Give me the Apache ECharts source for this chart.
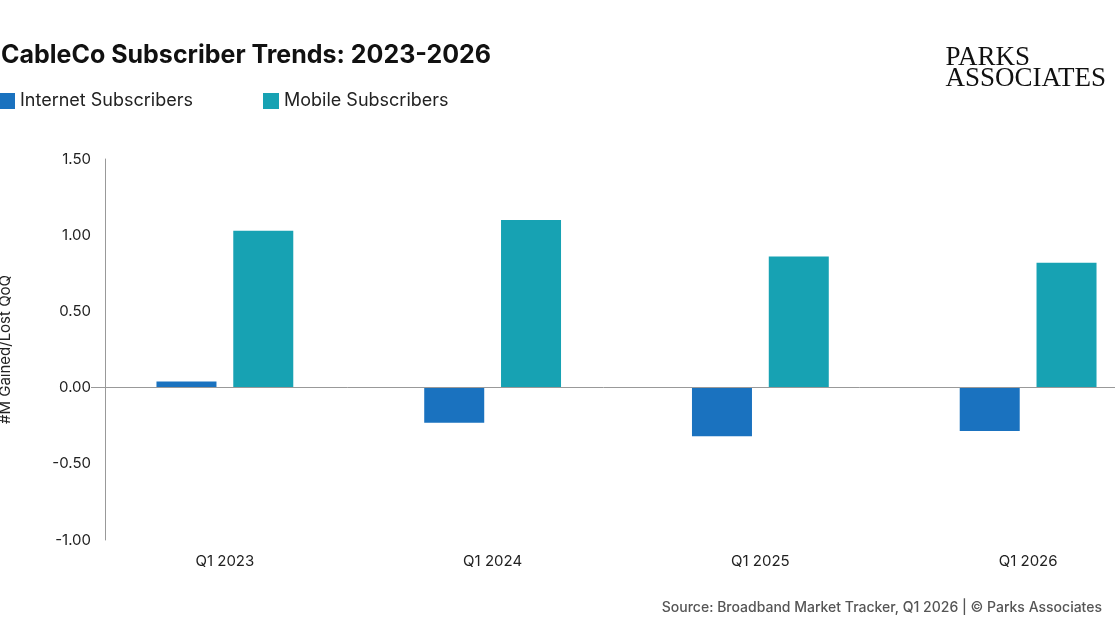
<!DOCTYPE html>
<html><head><meta charset="utf-8">
<script src="https://cdn.jsdelivr.net/npm/echarts@6/dist/echarts.min.js"></script>
<style>html,body{margin:0;padding:0;background:#fff}#c{width:1115px;height:627px}</style>
</head><body><div id="c"></div>
<script>
const categories = ['Q1 2023','Q1 2024','Q1 2025','Q1 2026'];
const internet = [0.04,-0.23,-0.32,-0.285];
const mobile = [1.03,1.10,0.86,0.82];
const yTicks = [-1,-0.5,0,0.5,1,1.5];
const chart = echarts.init(document.getElementById('c'));
const F = 'Inter, "Noto Sans", sans-serif';
chart.setOption({
  animation:false,
  title:[{text:'CableCo Subscriber Trends: 2023-2026',left:-4,top:38,textStyle:{fontFamily:F,fontSize:25,fontWeight:'bold',color:'#111'}},
    {text:'PARKS\nASSOCIATES',right:4,top:42,textStyle:{fontFamily:'"Liberation Serif", serif',fontSize:27,fontWeight:'normal',color:'#111',lineHeight:21}},
    {text:'Source: Broadband Market Tracker, Q1 2026 | © Parks Associates',right:8,top:596,textStyle:{fontFamily:F,fontSize:14,fontWeight:500,color:'#555'}}],
  legend:{left:-6,top:87,itemWidth:16,itemHeight:16,itemGap:70,icon:'rect',textStyle:{fontFamily:F,fontSize:18,color:'#222'},data:['Internet Subscribers','Mobile Subscribers']},
  grid:{left:91,right:-47,top:159,bottom:87,containLabel:false,outerBoundsMode:'none'},
  xAxis:{type:'category',data:categories,axisLine:{show:false,onZero:false},axisTick:{show:false},
    axisLabel:{fontFamily:F,fontSize:15,color:'#222',margin:14}},
  yAxis:{type:'value',min:-1,max:1.5,interval:0.5,offset:-14,name:'#M Gained/Lost QoQ',nameLocation:'middle',nameGap:92,
    nameTextStyle:{fontFamily:F,fontSize:15,color:'#222'},
    axisLine:{show:true,lineStyle:{color:'#999'}},splitLine:{show:false},
    axisLabel:{fontFamily:F,fontSize:15,color:'#222',margin:14,formatter:v=>v.toFixed(2)}},
  series:[
    {name:'Internet Subscribers',type:'bar',data:internet,barWidth:60,barGap:'28%',itemStyle:{color:'#1a72bf'},
     markLine:{silent:true,symbol:'none',label:{show:false},lineStyle:{color:'#999',type:'solid',width:1},data:[{yAxis:0}]}},
    {name:'Mobile Subscribers',type:'bar',data:mobile,barWidth:60,itemStyle:{color:'#17a2b3'}}
  ]
});
</script></body></html>
